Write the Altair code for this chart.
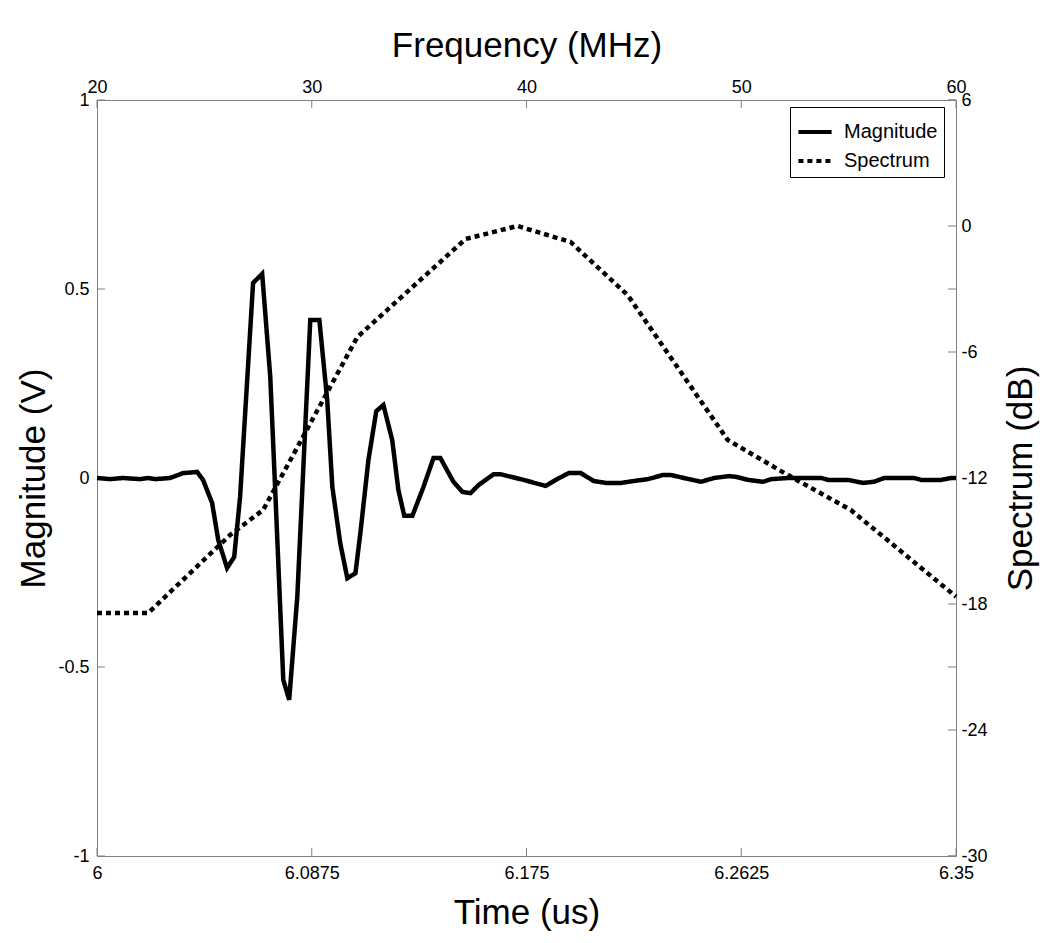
import altair as alt
import pandas as pd

# ---- data ----
time_us = [6.0000, 6.0053, 6.0106, 6.0175, 6.0208, 6.0237, 6.0298, 6.0351, 6.0408, 6.0432,
           6.0469, 6.0494, 6.0530, 6.0559, 6.0583, 6.0612, 6.0636, 6.0673, 6.0706, 6.0726,
           6.0759, 6.0783, 6.0816, 6.0869, 6.0906, 6.0938, 6.0959, 6.0991, 6.1020, 6.1053,
           6.1073, 6.1106, 6.1138, 6.1167, 6.1203, 6.1228, 6.1252, 6.1285, 6.1330, 6.1371,
           6.1399, 6.1452, 6.1489, 6.1522, 6.1554, 6.1616, 6.1644, 6.1738, 6.1828, 6.1869,
           6.1922, 6.1971, 6.2024, 6.2073, 6.2135, 6.2187, 6.2245, 6.2306, 6.2338, 6.2391,
           6.2461, 6.2514, 6.2575, 6.2604, 6.2653, 6.2714, 6.2747, 6.2816, 6.2951, 6.2979,
           6.3060, 6.3121, 6.3166, 6.3207, 6.3329, 6.3358, 6.3439, 6.3480, 6.3500]
magnitude_v = [0.000, -0.003, 0.000, -0.003, 0.000, -0.003, 0.000, 0.013, 0.016, -0.005,
               -0.066, -0.164, -0.238, -0.209, -0.050, 0.260, 0.516, 0.540, 0.267, -0.030,
               -0.534, -0.587, -0.315, 0.418, 0.418, 0.206, -0.024, -0.172, -0.265, -0.252,
               -0.146, 0.048, 0.177, 0.193, 0.100, -0.032, -0.100, -0.100, -0.024, 0.053,
               0.053, -0.010, -0.037, -0.040, -0.019, 0.010, 0.010, -0.005, -0.021, -0.005,
               0.013, 0.013, -0.008, -0.013, -0.013, -0.008, -0.003, 0.008, 0.008, 0.000,
               -0.010, 0.000, 0.005, 0.003, -0.005, -0.010, -0.003, 0.000, 0.000, -0.005,
               -0.005, -0.013, -0.010, 0.000, 0.000, -0.005, -0.005, 0.000, 0.000]

freq_mhz = [20.0, 22.38, 26.2, 27.74, 32.12, 37.16, 39.58, 42.05, 44.71, 49.37, 52.17, 55.1, 60.0]
spectrum_db = [-18.43, -18.43, -14.71, -13.52, -5.29, -0.62, 0.0, -0.76, -3.29, -10.19, -11.86, -13.52, -17.65]

series_names = ["Magnitude", "Spectrum"]
time_ticks = [6, 6.0875, 6.175, 6.2625, 6.35]
freq_ticks = [20, 30, 40, 50, 60]
mag_ticks = [-1, -0.5, 0, 0.5, 1]
db_ticks = [-30, -24, -18, -12, -6, 0, 6]

# ---- layout ----
W, H = 859, 756
GRAY = "#808080"
FONT = "Liberation Sans"
TL = 8  # inward tick length

mag_df = pd.DataFrame({"t": time_us, "v": magnitude_v, "series": series_names[0]})
spec_df = pd.DataFrame({"f": freq_mhz, "db": spectrum_db, "series": series_names[1]})

t_scale = alt.Scale(domain=[6, 6.35], nice=False, zero=False)
f_scale = alt.Scale(domain=[20, 60], nice=False, zero=False)
v_scale = alt.Scale(domain=[-1, 1], nice=False, zero=False)
d_scale = alt.Scale(domain=[-30, 6], nice=False, zero=False)

dash = alt.StrokeDash(
    "series:N",
    scale=alt.Scale(domain=series_names, range=[[1, 0], [5, 4]]),
    legend=alt.Legend(
        orient="none", legendX=693, legendY=7, title=None,
        strokeColor="black", fillColor="white", padding=6,
        symbolType="stroke", symbolSize=1100, symbolStrokeWidth=4,
        symbolStrokeColor="black", labelFontSize=20, labelFont=FONT,
        labelColor="black", labelOffset=10, rowPadding=0,
    ),
)

mag = alt.Chart(mag_df).mark_line(color="black", strokeWidth=4.5).encode(
    x=alt.X("t:Q", scale=t_scale, axis=alt.Axis(
        orient="bottom", values=time_ticks, labelExpr="'' + datum.value",
        title="Time (us)", titleX=W / 2, titleY=56, titleBaseline="middle",
        labelPadding=8, labelFlush=False)),
    y=alt.Y("v:Q", scale=v_scale, axis=alt.Axis(
        orient="left", values=mag_ticks, labelExpr="'' + datum.value",
        title="Magnitude (V)", titleAngle=270, titleX=-64, titleY=H / 2,
        titleBaseline="middle", titleAlign="center", labelPadding=8, labelFlush=False)),
    strokeDash=dash,
    order="t:Q",
)

spec = alt.Chart(spec_df).mark_line(color="black", strokeWidth=4.5, strokeCap="butt").encode(
    x=alt.X("f:Q", scale=f_scale, axis=alt.Axis(
        orient="top", values=freq_ticks, labelExpr="'' + datum.value",
        title="Frequency (MHz)", titleX=W / 2, titleY=-55, titleBaseline="middle",
        labelPadding=4, labelFlush=False)),
    y=alt.Y("db:Q", scale=d_scale, axis=alt.Axis(
        orient="right", values=db_ticks, labelExpr="'' + datum.value",
        title="Spectrum (dB)", titleAngle=270, titleX=64, titleY=H / 2,
        titleBaseline="middle", titleAlign="center", labelPadding=5, labelFlush=False)),
    strokeDash=dash,
    order="f:Q",
)

tick_rule = dict(color=GRAY, strokeWidth=1)
bottom_ticks = alt.Chart(pd.DataFrame({"t": time_ticks})).mark_rule(**tick_rule).encode(
    x=alt.X("t:Q", scale=t_scale, axis=None), y=alt.value(H), y2=alt.value(H - TL))
top_ticks = alt.Chart(pd.DataFrame({"f": freq_ticks})).mark_rule(**tick_rule).encode(
    x=alt.X("f:Q", scale=f_scale, axis=None), y=alt.value(0), y2=alt.value(TL))
left_ticks = alt.Chart(pd.DataFrame({"v": mag_ticks})).mark_rule(**tick_rule).encode(
    y=alt.Y("v:Q", scale=v_scale, axis=None), x=alt.value(0), x2=alt.value(TL))
right_ticks_v = alt.Chart(pd.DataFrame({"v": mag_ticks})).mark_rule(**tick_rule).encode(
    y=alt.Y("v:Q", scale=v_scale, axis=None), x=alt.value(W - TL), x2=alt.value(W))
right_ticks_d = alt.Chart(pd.DataFrame({"db": db_ticks})).mark_rule(**tick_rule).encode(
    y=alt.Y("db:Q", scale=d_scale, axis=None), x=alt.value(W - TL), x2=alt.value(W))

chart = alt.layer(
    bottom_ticks, top_ticks, left_ticks, right_ticks_v, right_ticks_d, mag, spec
).resolve_scale(
    x="independent", y="independent"
).properties(
    width=W, height=H,
    autosize=alt.AutoSizeParams(type="none"),
    padding={"left": 89, "top": 92, "right": 86, "bottom": 84},
    background="white",
).configure_view(
    stroke=GRAY, strokeWidth=1
).configure_axis(
    domain=False, ticks=False, grid=False,
    labelFont=FONT, labelFontSize=18, labelColor="black",
    titleFont=FONT, titleFontSize=35, titleColor="black", titleFontWeight="normal",
)

chart.save("out.html", embed_options={"renderer": "svg", "actions": False})
